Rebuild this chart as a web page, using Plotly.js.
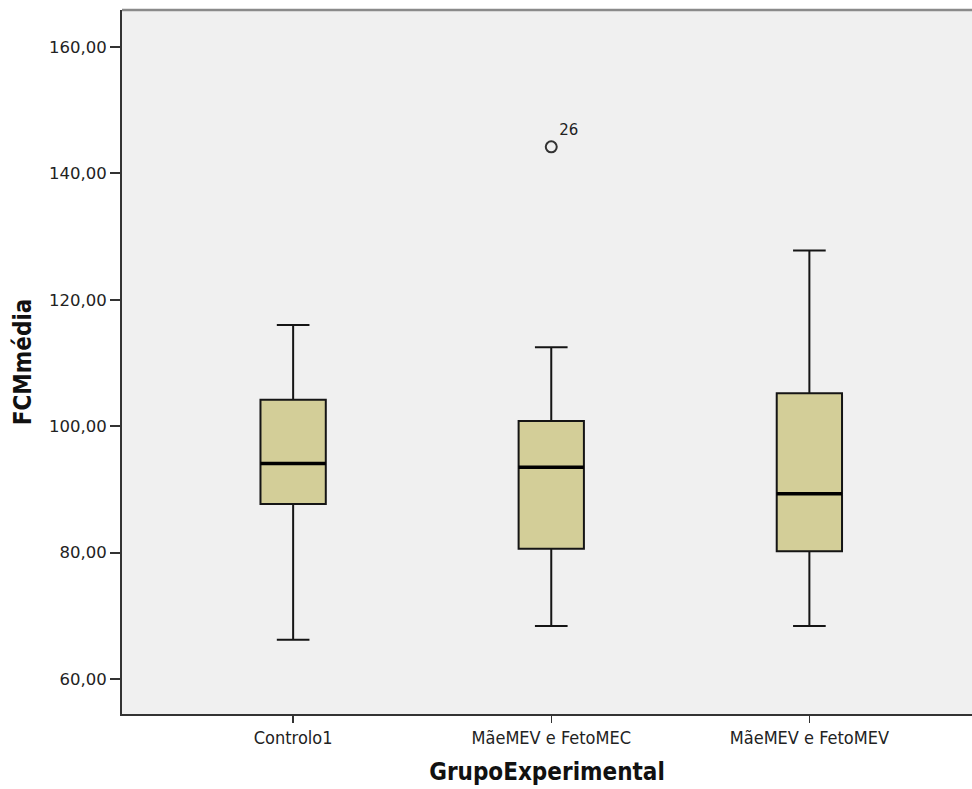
<!DOCTYPE html>
<html>
<head>
<meta charset="utf-8">
<script src="https://cdn.plot.ly/plotly-3.0.1.min.js"></script>
<style>
html,body{margin:0;padding:0;background:#fff;overflow:hidden;}
#chart{width:972px;height:789px;}
</style>
</head>
<body>
<div id="chart"></div>
<script>
// Data
var categories = ["Controlo1", "MãeMEV e FetoMEC", "MãeMEV e FetoMEV"];
var lowerWhisker = [66.2, 68.4, 68.4];
var q1Values = [87.7, 80.6, 80.2];
var medianValues = [94.1, 93.5, 89.3];
var q3Values = [104.2, 100.8, 105.2];
var upperWhisker = [116.0, 112.5, 127.8];
var outlierGroup = [1];
var outlierValues = [144.2];
var outlierLabels = ["26"];
var yTickValues = [60, 80, 100, 120, 140, 160];
var yTickLabels = ["60,00", "80,00", "100,00", "120,00", "140,00", "160,00"];

var boxW = 0.253;
var idx = categories.map(function(c, i){ return i; });

var traces = [];
traces.push({
  type: 'box',
  x: idx,
  q1: q1Values,
  median: medianValues,
  q3: q3Values,
  lowerfence: lowerWhisker,
  upperfence: upperWhisker,
  width: boxW,
  whiskerwidth: 0.5,
  fillcolor: 'rgb(211,206,152)',
  line: {color: '#151515', width: 2},
  boxpoints: false,
  hoverinfo: 'skip',
  showlegend: false
});
// Thicker median lines
idx.forEach(function(i){
  traces.push({
    type: 'scatter', mode: 'lines',
    x: [i - boxW/2, i + boxW/2],
    y: [medianValues[i], medianValues[i]],
    line: {color: '#000', width: 3.5},
    hoverinfo: 'skip', showlegend: false
  });
});
// Outliers
traces.push({
  type: 'scatter', mode: 'markers+text',
  x: outlierGroup,
  y: outlierValues,
  text: outlierLabels,
  textposition: 'top right',
  textfont: {family: 'DejaVu Sans', size: 15, color: '#222'},
  marker: {symbol: 'circle-open', size: 11, color: '#333', line: {width: 2, color: '#333'}},
  hoverinfo: 'skip', showlegend: false
});

var layout = {
  width: 972, height: 789,
  margin: {l: 122, r: 0, t: 10, b: 75},
  paper_bgcolor: '#ffffff',
  plot_bgcolor: '#f0f0f0',
  showlegend: false,
  xaxis: {
    range: [-0.663, 2.63],
    tickmode: 'array',
    tickvals: idx,
    ticktext: categories,
    ticks: 'outside', ticklen: 7, tickwidth: 1.5, tickcolor: '#333',
    showline: true, linecolor: '#333', linewidth: 1.5,
    showgrid: false, zeroline: false,
    tickfont: {family: 'DejaVu Sans Condensed, Liberation Sans Narrow, DejaVu Sans', size: 18, color: '#222'},
    title: {text: 'GrupoExperimental', standoff: 16,
      font: {family: 'DejaVu Sans Condensed, Liberation Sans Narrow, DejaVu Sans', size: 24, weight: 'bold', color: '#111'}}
  },
  yaxis: {
    range: [54.46, 165.85],
    tickmode: 'array',
    tickvals: yTickValues,
    ticktext: yTickLabels,
    ticks: 'outside', ticklen: 10, tickwidth: 2, tickcolor: '#333',
    showline: true, linecolor: '#333', linewidth: 2,
    showgrid: false, zeroline: false,
    tickfont: {family: 'DejaVu Sans', size: 16.5, color: '#222'},
    title: {text: 'FCMmédia', standoff: 11,
      font: {family: 'DejaVu Sans Condensed, Liberation Sans Narrow, DejaVu Sans', size: 24, weight: 'bold', color: '#111'}}
  },
  shapes: [{
    type: 'line', xref: 'paper', yref: 'paper',
    x0: 0, x1: 1, y0: 1, y1: 1,
    line: {color: '#8a8a8a', width: 2.5}
  }]
};

Plotly.newPlot('chart', traces, layout, {displayModeBar: false, staticPlot: true});
</script>
</body>
</html>
